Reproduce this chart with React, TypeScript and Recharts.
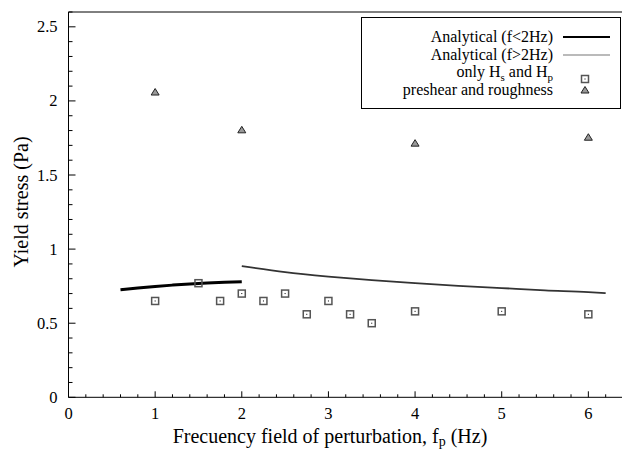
import { ComposedChart, Line, Scatter, XAxis, YAxis } from 'recharts';

// tick positions (minor every 0.2 / 0.1)
const xTicks = [0, 0.2, 0.4, 0.6, 0.8, 1, 1.2, 1.4, 1.6, 1.8, 2, 2.2, 2.4, 2.6, 2.8, 3, 3.2, 3.4, 3.6, 3.8, 4, 4.2, 4.4, 4.6, 4.8, 5, 5.2, 5.4, 5.6, 5.8, 6, 6.2, 6.4];
const yTicks = [0, 0.1, 0.2, 0.3, 0.4, 0.5, 0.6, 0.7, 0.8, 0.9, 1, 1.1, 1.2, 1.3, 1.4, 1.5, 1.6, 1.7, 1.8, 1.9, 2, 2.1, 2.2, 2.3, 2.4, 2.5, 2.6];

// Analytical (f<2Hz)
const lowX = [0.6, 0.8, 1.0, 1.2, 1.4, 1.6, 1.8, 2.0];
const lowY = [0.725, 0.737, 0.748, 0.757, 0.765, 0.771, 0.776, 0.78];

// Analytical (f>2Hz)
const highX = [2.0, 2.5, 3.0, 3.5, 4.0, 4.5, 5.0, 5.5, 6.0, 6.2];
const highY = [0.885, 0.845, 0.815, 0.79, 0.77, 0.752, 0.737, 0.722, 0.71, 0.703];

// only Hs and Hp
const squareX = [1, 1.5, 1.75, 2, 2.25, 2.5, 2.75, 3, 3.25, 3.5, 4, 5, 6];
const squareY = [0.65, 0.77, 0.65, 0.7, 0.65, 0.7, 0.56, 0.65, 0.56, 0.5, 0.58, 0.58, 0.56];

// preshear and roughness
const triX = [1, 2, 4, 6];
const triY = [2.06, 1.805, 1.715, 1.755];

const zip = (xs: number[], ys: number[]) => xs.map((x, i) => ({ x, y: ys[i] }));
const lowData = zip(lowX, lowY);
const highData = zip(highX, highY);
const squareData = zip(squareX, squareY);
const triData = zip(triX, triY);

const FONT = "'Liberation Serif', Tinos, 'Times New Roman', 'DejaVu Serif', serif";
const txt = { fontFamily: FONT };

const isMult = (v: number, step: number) => Math.abs(v / step - Math.round(v / step)) < 1e-6;

const BottomTick = ({ x, y, payload }: any) => {
  const major = isMult(payload.value, 1);
  return (
    <g>
      <line x1={x} x2={x} y1={y} y2={y - (major ? 6 : 3)} stroke="#000" />
      {major && (
        <text x={x} y={y + 22} textAnchor="middle" fontSize={16.5} style={txt} fill="#000">
          {payload.value}
        </text>
      )}
    </g>
  );
};

const TopTick = ({ x, y, payload }: any) => {
  const major = isMult(payload.value, 1);
  return <line x1={x} x2={x} y1={y} y2={y + (major ? 6 : 3)} stroke="#000" />;
};

const LeftTick = ({ x, y, payload }: any) => {
  const major = isMult(payload.value, 0.5);
  return (
    <g>
      <line x1={x} x2={x + (major ? 7 : 4)} y1={y} y2={y} stroke="#000" />
      {major && (
        <text x={x - 11} y={y + 5.5} textAnchor="end" fontSize={16.5} style={txt} fill="#000">
          {payload.value}
        </text>
      )}
    </g>
  );
};

const SquareMark = ({ cx, cy }: any) => (
  <g>
    <rect x={cx - 3.5} y={cy - 3.5} width={7} height={7} fill="none" stroke="#555" strokeWidth={1.5} />
    <rect x={cx - 0.5} y={cy - 0.5} width={1} height={1} fill="#000" />
  </g>
);

const TriMark = ({ cx, cy }: any) => (
  <polygon
    points={`${cx},${cy - 3.5} ${cx + 4},${cy + 3} ${cx - 4},${cy + 3}`}
    fill="#999"
    stroke="#222"
    strokeWidth={1}
  />
);

export default function App() {
  return (
    <div style={{ position: 'absolute', left: 0, top: 0, width: 622, height: 450, overflow: 'hidden', background: '#fff' }}>
      <ComposedChart width={640} height={450} margin={{ top: 0, right: 0, bottom: 0, left: 0 }}>
        <XAxis
          xAxisId={0}
          type="number"
          dataKey="x"
          domain={[0, 6.4]}
          ticks={xTicks}
          interval={0}
          allowDataOverflow
          height={52.7}
          tickSize={0}
          tickMargin={0}
          tickLine={false}
          axisLine={{ stroke: '#000' }}
          tick={<BottomTick />}
        />
        <XAxis
          xAxisId="top"
          orientation="top"
          type="number"
          domain={[0, 6.4]}
          ticks={xTicks}
          interval={0}
          allowDataOverflow
          height={12}
          tickSize={0}
          tickMargin={0}
          tickLine={false}
          axisLine={{ stroke: '#000' }}
          tick={<TopTick />}
        />
        <YAxis
          yAxisId={0}
          type="number"
          dataKey="y"
          domain={[0, 2.6]}
          ticks={yTicks}
          interval={0}
          allowDataOverflow
          width={68.5}
          tickSize={0}
          tickMargin={0}
          tickLine={false}
          axisLine={{ stroke: '#000' }}
          tick={<LeftTick />}
        />
        <YAxis
          yAxisId="right"
          orientation="right"
          type="number"
          domain={[0, 2.6]}
          width={17}
          tick={false}
          tickLine={false}
          axisLine={{ stroke: '#000' }}
        />
        <Line
          data={lowData}
          dataKey="y"
          type="monotone"
          stroke="#000"
          strokeWidth={3}
          dot={false}
          isAnimationActive={false}
        />
        <Line
          data={highData}
          dataKey="y"
          type="monotone"
          stroke="#333"
          strokeWidth={1.8}
          dot={false}
          isAnimationActive={false}
        />
        <Scatter data={squareData} dataKey="y" shape={<SquareMark />} isAnimationActive={false} />
        <Scatter data={triData} dataKey="y" shape={<TriMark />} isAnimationActive={false} />
      </ComposedChart>

      <svg width={622} height={450} style={{ position: 'absolute', left: 0, top: 0, pointerEvents: 'none', fontFamily: FONT }}>
        <g>
          <rect x={361.5} y={17.5} width={259} height={91} fill="#fff" stroke="#000" strokeWidth={1} />
          <text x={553} y={42} textAnchor="end" fontSize={16} style={txt}>Analytical (f&lt;2Hz)</text>
          <line x1={563} x2={610} y1={37} y2={37} stroke="#000" strokeWidth={2} />
          <text x={553} y={60} textAnchor="end" fontSize={16} style={txt}>Analytical (f&gt;2Hz)</text>
          <line x1={563} x2={610} y1={55} y2={55} stroke="#777" strokeWidth={1.2} />
          <text x={553} y={76.5} textAnchor="end" fontSize={16} style={txt}>
            only H<tspan dy={4} fontSize={11}>s</tspan>
            <tspan dy={-4}> and H</tspan>
            <tspan dy={4} fontSize={11}>p</tspan>
          </text>
          <SquareMark cx={585} cy={79} />
          <text x={553} y={95} textAnchor="end" fontSize={16} style={txt}>preshear and roughness</text>
          <TriMark cx={585} cy={90} />
        </g>
        <text x={330} y={443} textAnchor="middle" fontSize={20} style={txt}>
          Frecuency field of perturbation, f<tspan dy={3} fontSize={14}>p</tspan>
          <tspan dy={-3}> (Hz)</tspan>
        </text>
        <text x={28} y={202} textAnchor="middle" fontSize={20} style={txt} transform="rotate(-90 28 202)">
          Yield stress (Pa)
        </text>
      </svg>
    </div>
  );
}
